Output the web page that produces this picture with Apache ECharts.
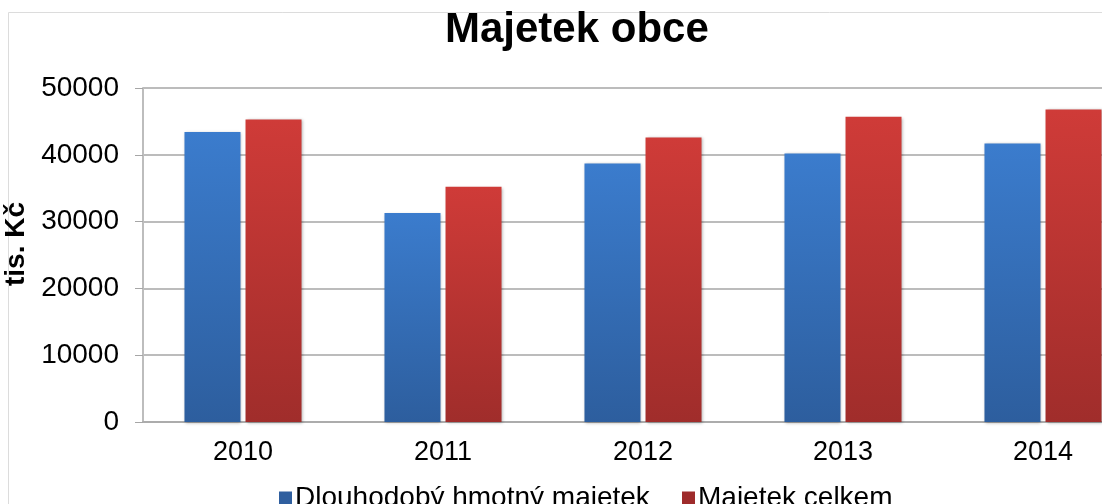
<!DOCTYPE html>
<html>
<head>
<meta charset="utf-8">
<script src="https://cdn.jsdelivr.net/npm/echarts@6/dist/echarts.min.js"></script>
<style>
html,body{margin:0;padding:0;background:#fff;}
#chart{width:1102px;height:504px;}
</style>
</head>
<body>
<div id="chart"></div>
<script>
var titleText = 'Majetek obce';
var categories = ['2010', '2011', '2012', '2013', '2014'];
var seriesNames = ['Dlouhodobý hmotný majetek', 'Majetek celkem'];
var dlouhodobyHmotny = [43400, 31300, 38700, 40200, 41700];
var majetekCelkem = [45300, 35200, 42600, 45700, 46800];
var yTicks = [0, 10000, 20000, 30000, 40000, 50000];
var yAxisName = 'tis. Kč';

var FONT = '"Liberation Sans", Arial, sans-serif';

function grad(top, bottom) {
  return new echarts.graphic.LinearGradient(0, 0, 0, 1, [
    {offset: 0, color: top}, {offset: 1, color: bottom}
  ]);
}

var legendText = {fontFamily: FONT, fontSize: 28, color: '#000', padding: [0, 0, 0, -2]};

var chart = echarts.init(document.getElementById('chart'), null, {renderer: 'canvas'});
chart.setOption({
  animation: false,
  backgroundColor: '#ffffff',
  graphic: [{
    type: 'rect',
    shape: {x: 8.5, y: 12.5, width: 1200, height: 600},
    style: {fill: 'none', stroke: '#dcdcdc', lineWidth: 1},
    silent: true
  }],
  title: {
    text: titleText,
    left: 440,
    top: 4,
    textStyle: {fontFamily: FONT, fontSize: 42, fontWeight: 'bold', color: '#000'}
  },
  legend: [{
    data: [{name: seriesNames[0], itemStyle: {color: '#2f5f9f'}}],
    left: 274, top: 479,
    icon: 'rect', itemWidth: 13, itemHeight: 13,
    textStyle: legendText
  }, {
    data: [{name: seriesNames[1], itemStyle: {color: '#9e2b2b'}}],
    left: 677, top: 479,
    icon: 'rect', itemWidth: 13, itemHeight: 13,
    textStyle: legendText
  }],
  grid: {left: 143, width: 1000, top: 88, bottom: 82, containLabel: false, outerBoundsMode: 'none'},
  xAxis: {
    type: 'category',
    data: categories,
    axisLine: {show: true, lineStyle: {color: '#a6a6a6', width: 1.5}},
    axisTick: {show: false},
    axisLabel: {fontFamily: FONT, fontSize: 27, color: '#000', margin: 17}
  },
  yAxis: {
    type: 'value',
    min: yTicks[0],
    max: yTicks[yTicks.length - 1],
    interval: yTicks[1] - yTicks[0],
    name: yAxisName,
    nameLocation: 'middle',
    nameGap: 109,
    nameRotate: 90,
    nameTextStyle: {fontFamily: FONT, fontSize: 28, fontWeight: 'bold', color: '#000', padding: [0, 0, 0, 22]},
    axisLine: {show: true, lineStyle: {color: '#bdbdbd', width: 2}},
    axisTick: {show: true, inside: false, length: 8, lineStyle: {color: '#a6a6a6'}},
    axisLabel: {
      fontFamily: FONT, fontSize: 28, color: '#000', margin: 24,
      formatter: function (v) { return String(v); }
    },
    splitLine: {show: true, lineStyle: {color: '#a6a6a6', width: 1.5}}
  },
  series: [{
    name: seriesNames[0],
    type: 'bar',
    data: dlouhodobyHmotny,
    barWidth: 56,
    barGap: '9%',
    itemStyle: {
      color: grad('#3b7ccd', '#2d5e9e'),
      shadowBlur: 3, shadowColor: 'rgba(0,0,0,0.3)', shadowOffsetX: 1, shadowOffsetY: 1
    }
  }, {
    name: seriesNames[1],
    type: 'bar',
    data: majetekCelkem,
    barWidth: 56,
    barGap: '9%',
    itemStyle: {
      color: grad('#cf3b38', '#a02d2b'),
      shadowBlur: 3, shadowColor: 'rgba(0,0,0,0.3)', shadowOffsetX: 1, shadowOffsetY: 1
    }
  }]
});
</script>
</body>
</html>
